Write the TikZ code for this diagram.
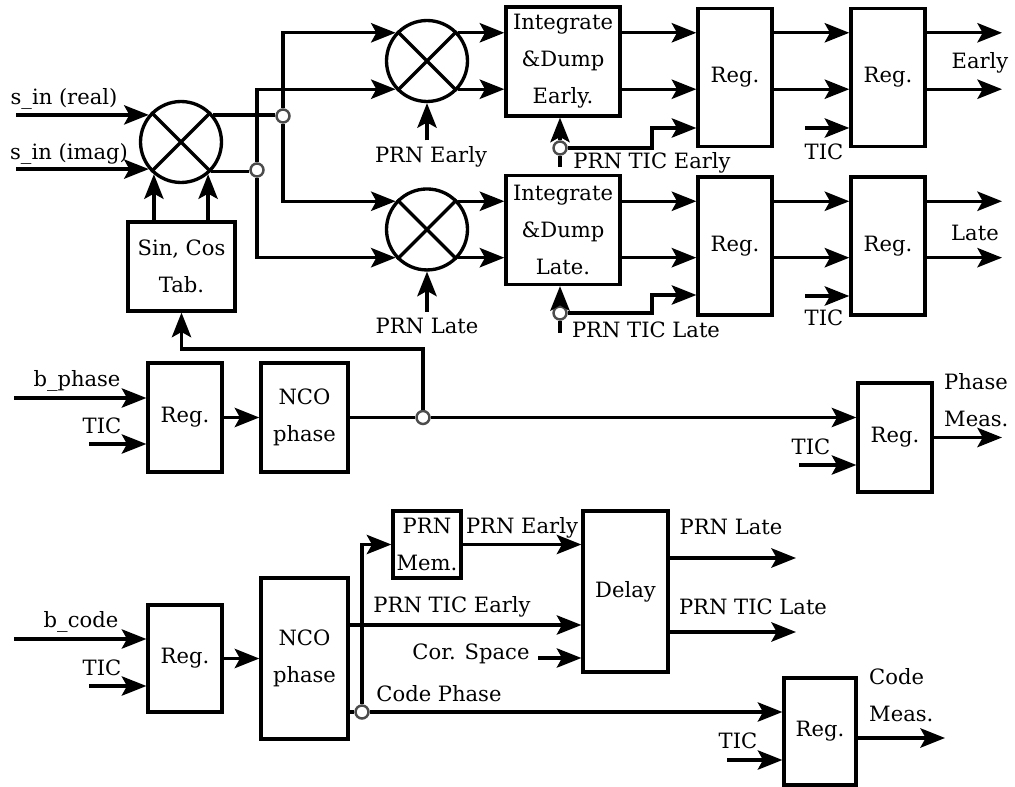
\documentclass[tikz,border=0pt]{standalone}
\usepackage{fontspec}
\setmainfont{DejaVu Serif}
\usetikzlibrary{arrows.meta, positioning}

\begin{document}
\begin{tikzpicture}[x=0.02cm, y=-0.02cm, on grid,
    font=\fontsize{12}{21}\selectfont,
    wire/.style={line width=1.9pt},
    sig/.style={wire, -{Stealth[length=14pt, width=11pt, inset=3pt]}},
    blk/.style={draw, line width=1.9pt, align=center, inner sep=0pt},
    reg/.style={blk, minimum width=1.48cm, minimum height=2.18cm},
    tallreg/.style={reg, minimum height=2.76cm},
    intdump/.style={blk, minimum width=2.28cm, minimum height=2.18cm},
    mixer/.style={draw, circle, line width=1.9pt, minimum size=1.62cm, inner sep=0pt},
    dot/.style={draw=black!70, fill=white, circle, line width=1.4pt, minimum size=0.26cm, inner sep=0pt}]
        \useasboundingbox (0,0) rectangle (1015,787);

        % carrier mixing
        \node[mixer] (m0) at (181,142) {};
        \node[mixer] (me) at (427,61) {};
        \node[mixer, below=3.37cm of me] (ml) {};
        \node[intdump] (ide) at (563,61.5) {Integrate\\\&Dump\\Early.};
        \node[intdump, below=3.37cm of ide] (idl) {Integrate\\\&Dump\\Late.};
        \node[tallreg] (re1) at (735,77.5) {Reg.};
        \node[tallreg, right=3.06cm of re1] (re2) {Reg.};
        \node[tallreg, below=3.37cm of re1] (rl1) {Reg.};
        \node[tallreg, right=3.06cm of rl1] (rl2) {Reg.};
        \node[blk, minimum width=2.14cm, minimum height=1.78cm] (sct) at (181.5,266.5) {Sin, Cos\\Tab.};

        % carrier NCO
        \node[reg] (rp) at (185,417.5) {Reg.};
        \node[blk, minimum width=1.74cm, minimum height=2.18cm, right=2.39cm of rp] (ncop) {NCO\\phase};
        \node[reg] (rpm) at (895,437.5) {Reg.};

        % code NCO
        \node[reg, minimum height=2.14cm] (rc) at (185,658.5) {Reg.};
        \node[blk, minimum width=1.74cm, minimum height=3.22cm, right=2.39cm of rc] (ncoc) {NCO\\phase};
        \node[blk, minimum width=1.36cm, minimum height=1.34cm] (prnm) at (427,544.5) {PRN\\Mem.};
        \node[blk, minimum width=1.70cm, minimum height=3.22cm] (dly) at (625.5,591.5) {Delay};
        \node[reg, minimum width=1.44cm, minimum height=2.14cm] (rcm) at (820,731.5) {Reg.};

        % junctions
        \node[dot] (jA) at (283,116) {};
        \node[dot] (jB) at (257,170) {};
        \node[dot] (jTE) at (560,148) {};
        \node[dot] (jTL) at (560,313) {};
        \node[dot] (jP) at (423,417.5) {};
        \node[dot] (jC) at (362,712) {};

        % labels
        \node (lsr) at (64,99) {s\_in (real)};
        \node (lsi) at (69,154) {s\_in (imag)};
        \node (lpe) at (431,157) {PRN Early};
        \node (lpl) at (427,326) {PRN Late};
        \node (ltie) at (652,163) {PRN TIC Early};
        \node (ltil) at (646,330) {PRN TIC Late};
        \node (ltce) at (824,152) {TIC};
        \node (ltcl) at (824,318) {TIC};
        \node (learly) at (980,63) {Early};
        \node (llate) at (975,233) {Late};
        \node (lbp) at (77,381) {b\_phase};
        \node (ltp) at (102,426) {TIC};
        \node (ltpm) at (811,447) {TIC};
        \node[align=left, anchor=west] (lpm) at (938,400) {Phase\\Meas.};
        \node (lbc) at (81,622) {b\_code};
        \node (ltc) at (102,668) {TIC};
        \node (lpe2) at (522,528) {PRN Early};
        \node (lpte2) at (452,607) {PRN TIC Early};
        \node (lcs) at (471,654) {Cor. Space};
        \node (lcp) at (439,694) {Code Phase};
        \node (lpl2) at (731,527) {PRN Late};
        \node (lptl2) at (753,607) {PRN TIC Late};
        \node (ltcm) at (738,741) {TIC};
        \node[align=left, anchor=west] (lcm) at (863,695) {Code\\Meas.};

        % free ends
        \coordinate (iS) at (16,0);
        \coordinate (oR) at (1002,0);
        \coordinate (bTE) at (652,128);
        \coordinate (bTL) at (652,295);
        \coordinate (tTE) at (560,167);
        \coordinate (tTL) at (560,333);
        \coordinate (iTE) at (805,128);
        \coordinate (iTL) at (805,296);
        \coordinate (kSC) at (181.5,349);
        \coordinate (iBP) at (14,398);
        \coordinate (iTP) at (89,444);
        \coordinate (iTM) at (799,465);
        \coordinate (oPM) at (1002,437.5);
        \coordinate (iBC) at (14,639);
        \coordinate (iTC) at (89,686);
        \coordinate (yPT) at (0,625);
        \coordinate (iCS) at (538,658);
        \coordinate (oPL) at (796,558);
        \coordinate (oTL) at (796,632);
        \coordinate (iTR) at (727,760);
        \coordinate (oCM) at (945,738);

        % crosses in the mixers
        \draw[wire] (m0.45) -- (m0.225) (m0.135) -- (m0.315);
        \draw[wire] (me.45) -- (me.225) (me.135) -- (me.315);
        \draw[wire] (ml.45) -- (ml.225) (ml.135) -- (ml.315);

        % mixer inputs and outputs
        \path[sig]
        (m0.140 -| iS) edge (m0.140)
        (m0.220 -| iS) edge (m0.220)
        (m0.230 |- sct.north) edge (m0.230)
        (m0.310 |- sct.north) edge (m0.310)
        (lpe.north -| me) edge (me)
        (lpl.north -| ml) edge (ml)
        (me.42) edge (me.42 -| ide.west)
        (me.-42) edge (me.-42 -| ide.west)
        (ml.42) edge (ml.42 -| idl.west)
        (ml.-42) edge (ml.-42 -| idl.west);
        \draw[wire] (m0.40) -- (m0.40 -| jA.west);
        \draw[wire] (m0.-44) -- (m0.-44 -| jB.west);
        \draw[sig] (jA) |- (me.138);
        \draw[sig] (jA) |- (ml.138);
        \draw[sig] (jB) |- (me.222);
        \draw[sig] (jB) |- (ml.222);

        % early branch
        \path[sig]
        (ide.east |- me.42) edge (re1.west |- me.42)
        (ide.east |- me.-42) edge (re1.west |- me.-42)
        (re1.east |- me.42) edge (re2.west |- me.42)
        (re1.east |- me.-42) edge (re2.west |- me.-42)
        (re2.east |- me.42) edge (oR |- me.42)
        (re2.east |- me.-42) edge (oR |- me.-42)
        (jTE) edge (jTE |- ide.south)
        (iTE) edge (iTE -| re2.west);
        \draw[wire] (jTE) -- (tTE);
        \draw[sig] (jTE) -| (bTE) -- (bTE -| re1.west);

        % late branch
        \path[sig]
        (idl.east |- ml.42) edge (rl1.west |- ml.42)
        (idl.east |- ml.-42) edge (rl1.west |- ml.-42)
        (rl1.east |- ml.42) edge (rl2.west |- ml.42)
        (rl1.east |- ml.-42) edge (rl2.west |- ml.-42)
        (rl2.east |- ml.42) edge (oR |- ml.42)
        (rl2.east |- ml.-42) edge (oR |- ml.-42)
        (jTL) edge (jTL |- idl.south)
        (iTL) edge (iTL -| rl2.west);
        \draw[wire] (jTL) -- (tTL);
        \draw[sig] (jTL) -| (bTL) -- (bTL -| rl1.west);

        % carrier NCO
        \path[sig]
        (iBP) edge (iBP -| rp.west)
        (iTP) edge (iTP -| rp.west)
        (rp) edge (ncop)
        (jP) edge (jP -| rpm.west)
        (iTM) edge (iTM -| rpm.west)
        (rpm) edge (oPM);
        \draw[wire] (ncop.east) -- (jP);
        \draw[sig] (jP) |- (kSC) -- (sct.south);

        % code NCO
        \path[sig]
        (iBC) edge (iBC -| rc.west)
        (iTC) edge (iTC -| rc.west)
        (rc) edge (ncoc)
        (ncoc.east |- yPT) edge (dly.west |- yPT)
        (prnm) edge (prnm.east -| dly.west)
        (iCS) edge (iCS -| dly.west)
        (oPL -| dly.east) edge (oPL)
        (oTL -| dly.east) edge (oTL)
        (jC) edge (jC -| rcm.west)
        (iTR) edge (iTR -| rcm.west)
        (oCM -| rcm.east) edge (oCM);
        \draw[wire] (ncoc.east |- jC) -- (jC);
        \draw[sig] (jC) |- (prnm.west);
    \end{tikzpicture}
\end{document}
